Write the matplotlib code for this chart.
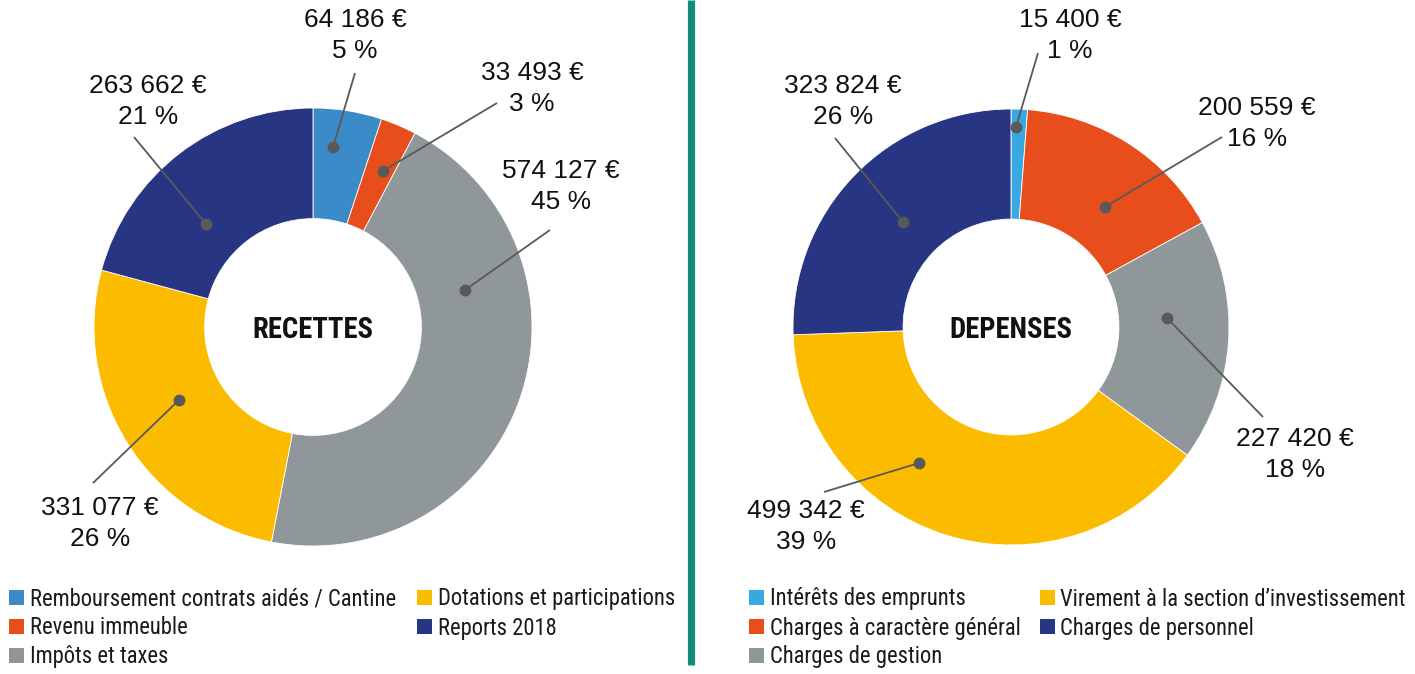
"""
Budget recettes / dépenses : deux anneaux côte à côte.
"""

import matplotlib.pyplot as plt
from matplotlib import font_manager
from matplotlib.font_manager import FontProperties
from matplotlib.patches import Patch

W, H = 1415, 674

recettes_labels = [
    "Remboursement contrats aidés / Cantine",
    "Revenu immeuble",
    "Impôts et taxes",
    "Dotations et participations",
    "Reports 2018",
]
recettes_values = [64186, 33493, 574127, 331077, 263662]

depenses_labels = [
    "Intérêts des emprunts",
    "Charges à caractère général",
    "Charges de gestion",
    "Virement à la section d\u2019investissement",
    "Charges de personnel",
]
depenses_values = [15400, 200559, 227420, 499342, 323824]

recettes_colors = ["#3b8bc9", "#e84e1b", "#8f979b", "#fbbc00", "#283583"]
depenses_colors = ["#38a8e0", "#e84e1b", "#8f979b", "#fbbc00", "#283583"]

# Label layout in pixels: (text centre x, baseline of first line,
# leader end x, leader end y, dot x, dot y)
recettes_layout = [
    (355, 27, 355, 73, 333, 147),
    (532, 80, 497, 103, 383, 171),
    (561, 178, 550, 230, 465, 290),
    (100, 515, 93, 483, 179, 400),
    (148, 93, 134, 137, 206, 224),
]
depenses_layout = [
    (1070, 27, 1038, 53, 1016, 127),
    (1257, 115, 1222, 137, 1105, 207),
    (1295, 446, 1263, 417, 1167, 318),
    (806, 518, 824, 492, 919, 463),
    (843, 93, 835, 138, 903, 222),
]

LABEL_FONT = "Liberation Sans"


def narrow_props(weight="normal"):
    """Picks the narrowest installed sans family for titles and legends."""
    fonts = font_manager.fontManager.ttflist
    names = {f.name for f in fonts}
    for name in ("Roboto Condensed", "Liberation Sans Narrow",
                 "Open Sans Condensed", "Noto Sans Condensed"):
        if name in names:
            return FontProperties(family=[name, "DejaVu Sans"], weight=weight)
    for f in fonts:
        if f.name in ("DejaVu Sans", "Noto Sans", "Open Sans") and \
                str(f.stretch) in ("condensed", "semi-condensed", "500", "75"):
            return FontProperties(family=[f.name, "DejaVu Sans"],
                                  weight=weight, stretch=f.stretch)
    return FontProperties(family=["Roboto", "DejaVu Sans"], weight=weight)


def text_size(fig, s, props):
    """Width and height in pixels of a text drawn with props."""
    t = fig.text(0, 0, s, fontproperties=props)
    bb = t.get_window_extent(fig.canvas.get_renderer())
    t.remove()
    return bb.width, bb.height


def fit_props(fig, s, props, target_w):
    """Returns a copy of props sized so that s is target_w pixels wide."""
    p = props.copy()
    p.set_size(20)
    w, _ = text_size(fig, s, p)
    p.set_size(20 * target_w / w)
    return p


def fmt_label(value, total):
    """Amount with a space as thousands separator, then the share."""
    amount = f"{value:,}".replace(",", " ") + " €"
    share = f"{round(100 * value / total)} %"
    return amount, share


def draw_donut(ax, values, colors, center, radius, title, title_props, layout):
    """Draws one ring with its centre title and leader-line labels."""
    # y axis is inverted, so counterclock in data is clockwise on screen
    ax.pie(
        values,
        colors=colors,
        startangle=270,
        counterclock=True,
        center=center,
        radius=radius,
        wedgeprops=dict(width=radius * 0.505, edgecolor="white", linewidth=0.6),
    )
    ax.text(center[0], center[1] + 3, title, ha="center", va="center",
            fontproperties=title_props, color="#111111")
    total = sum(values)
    for v, (tx, ty, lx, ly, dx, dy) in zip(values, layout):
        amount, share = fmt_label(v, total)
        ax.text(tx, ty, amount, ha="center", va="baseline",
                fontsize=19, family=LABEL_FONT, color="#111111")
        ax.text(tx, ty + 31, share, ha="center", va="baseline",
                fontsize=19, family=LABEL_FONT, color="#111111")
        ax.plot([lx, dx], [ly, dy], color="#595959", lw=1.3,
                solid_capstyle="butt")
        ax.plot(dx, dy, "o", color="#595959", ms=7.5)


def add_legend(fig, labels, colors, props, x0, col2_x, first_row_y):
    """Two-column legend below a ring; positions given in pixels."""
    fs_px = props.get_size_in_points() * 100 / 72
    text_w = max(text_size(fig, s, props)[0] for s in labels[:3])
    text_h = text_size(fig, labels[0], props)[1]
    box = 14.5
    pad = 6
    handles = [Patch(facecolor=c, edgecolor="none") for c in colors]
    colspace = (col2_x - (x0 + box + pad + text_w)) / fs_px
    fig.legend(
        handles, labels,
        loc="upper left",
        bbox_to_anchor=(x0 / W, 1 - (first_row_y - text_h / 2) / H),
        ncol=2, frameon=False, borderpad=0, borderaxespad=0,
        prop=props,
        handlelength=box / fs_px, handleheight=box / fs_px,
        handletextpad=pad / fs_px,
        labelspacing=(29 - text_h) / fs_px, columnspacing=colspace,
        labelcolor="#1a1a1a",
    )


def main():
    fig = plt.figure(figsize=(W / 100, H / 100), dpi=100)
    ax = fig.add_axes([0, 0, 1, 1])

    title_props = fit_props(fig, "RECETTES", narrow_props("bold"), 121)
    legend_props = fit_props(fig, recettes_labels[0], narrow_props(), 365)

    draw_donut(ax, recettes_values, recettes_colors, (313, 327), 219,
               "RECETTES", title_props, recettes_layout)
    draw_donut(ax, depenses_values, depenses_colors, (1011, 327), 218,
               "DEPENSES", title_props, depenses_layout)

    # Teal separator between the two halves
    ax.plot([690.5, 690.5], [0, 665], color="#138c7b", lw=5.2,
            solid_capstyle="butt")

    ax.set_xlim(0, W)
    ax.set_ylim(H, 0)
    ax.set_aspect("auto")
    ax.axis("off")

    add_legend(fig, recettes_labels, recettes_colors, legend_props,
               9, 417, 599)
    add_legend(fig, depenses_labels, depenses_colors, legend_props,
               749, 1040, 599)

    fig.savefig("out.png", dpi=100, facecolor="white")


if __name__ == "__main__":
    main()
